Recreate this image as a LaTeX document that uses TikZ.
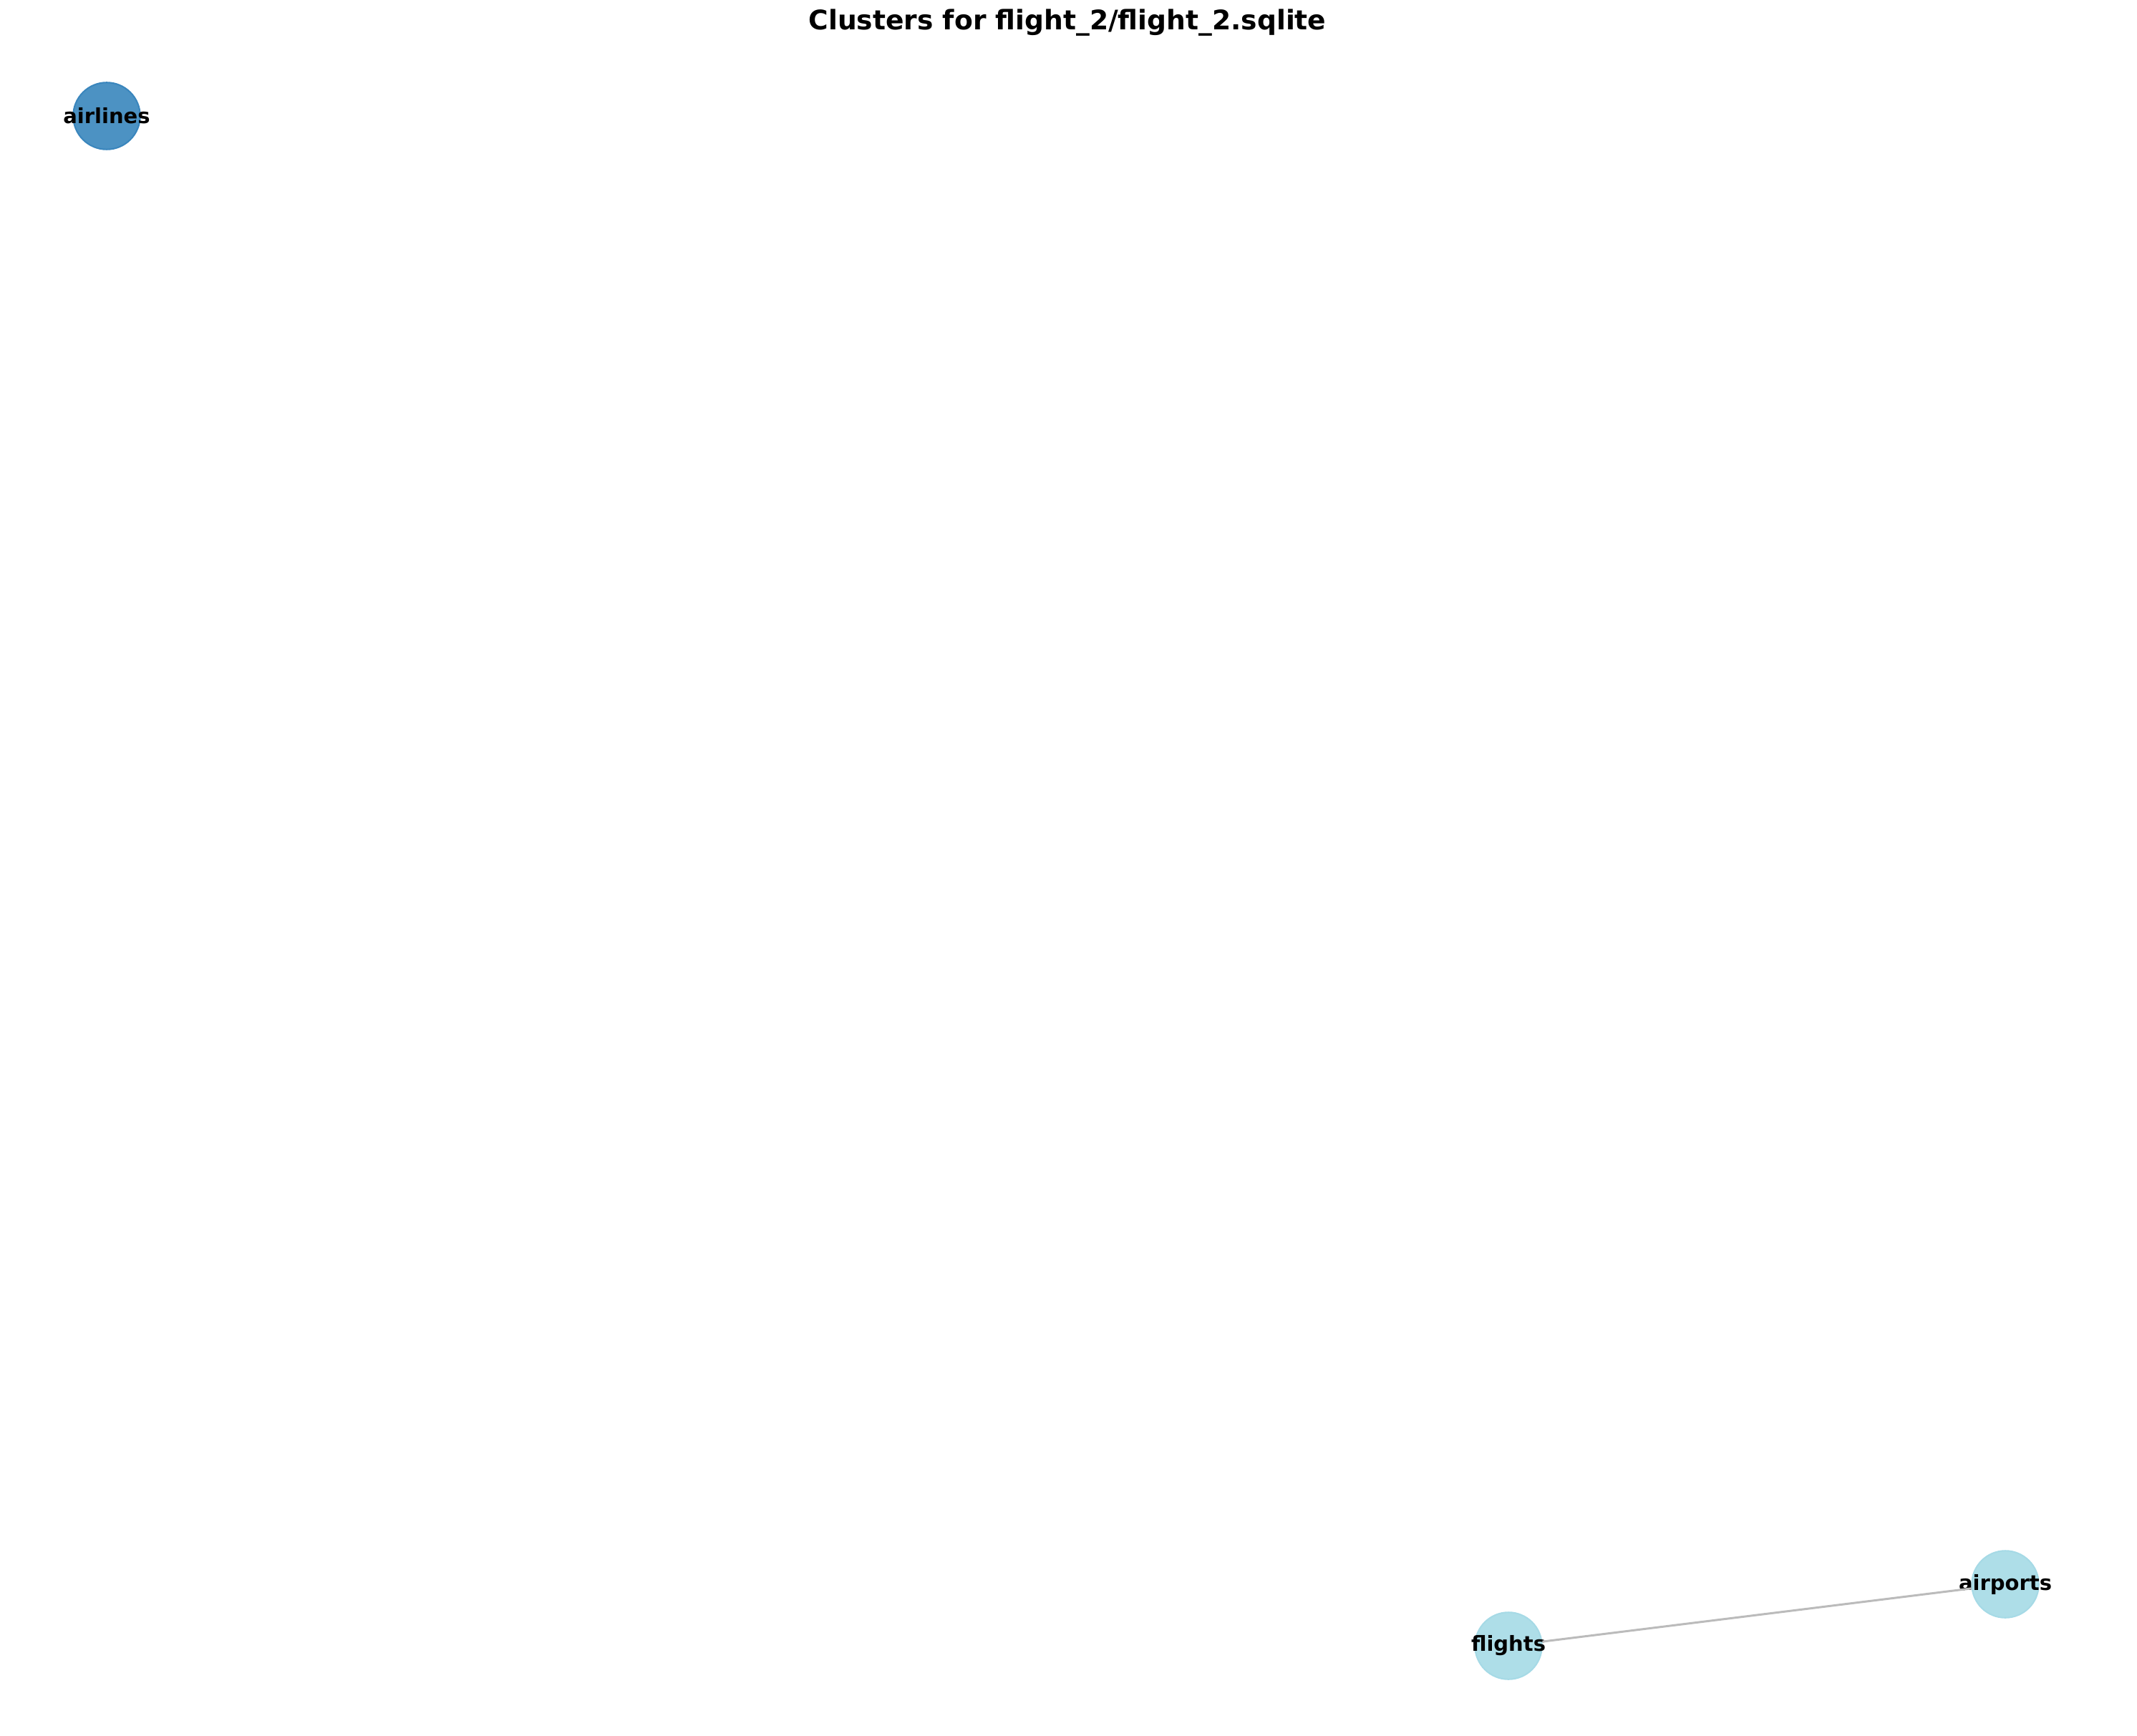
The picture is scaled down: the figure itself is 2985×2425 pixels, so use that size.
\documentclass[tikz,border=0pt]{standalone}
\usepackage{fontspec}
\setmainfont{DejaVu Sans}
\definecolor{tabblue}{RGB}{76,146,195}
\definecolor{tabblueedge}{RGB}{58,134,189}
\definecolor{lightcyan}{RGB}{174,222,232}
\definecolor{lightcyanedge}{RGB}{166,218,230}
\definecolor{edgegray}{RGB}{187,187,187}

\begin{document}
\begin{tikzpicture}[x=0.01cm, y=-0.01cm,
    tabnode/.style={circle, inner sep=0pt, minimum size=0.934cm, line width=0.6pt},
    tablabel/.style={font=\fontsize{8.25}{9}\selectfont\bfseries}]
        \useasboundingbox (0,0) rectangle (2985,2425);
        % Title
        \node[font=\fontsize{10.7}{13}\selectfont\bfseries] (title) at (1491,32) {Clusters for flight\_2/flight\_2.sqlite};

        % Cluster nodes
        \node[tabnode, fill=tabblue, draw=tabblueedge, label={[tablabel]center:airlines}] (airlines) at (149,162) {};
        \node[tabnode, fill=lightcyan, draw=lightcyanedge, label={[tablabel]center:flights}] (flights) at (2107,2299) {};
        \node[tabnode, fill=lightcyan, draw=lightcyanedge, label={[tablabel]center:airports}] (airports) at (2801,2213) {};

        \draw[edgegray, line width=0.85pt] (flights) -- (airports);
    \end{tikzpicture}
\end{document}
